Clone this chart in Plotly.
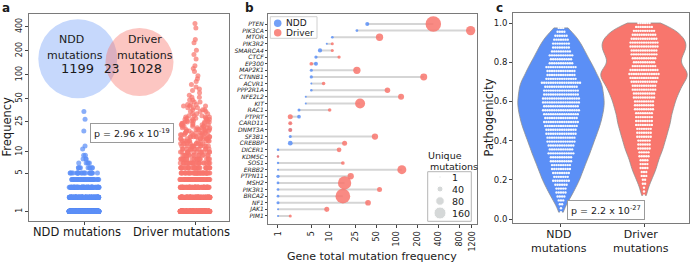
import numpy as np
import plotly.graph_objects as go

# ---------------- data ----------------
# Panel a: mutation frequency distributions
a_categories = ["NDD mutations", "Driver mutations"]
ndd_freq_values = [1, 2, 3, 4, 5, 6, 7, 8, 9, 11, 12, 19, 27, 34]
ndd_freq_counts = [831, 210, 90, 45, 22, 9, 5, 3, 2, 1, 1, 1, 1, 1]
drv_freq_values = [1, 2, 3, 4, 5, 6, 7, 8, 9, 10, 11, 12, 13, 14, 15, 16, 17, 18, 19, 20,
                   21, 22, 23, 24, 25, 26, 27, 28, 29, 30, 32, 34, 36, 38, 40, 42, 45, 48, 52,
                   55, 59, 63, 66, 70, 75, 82, 89, 97, 110, 120, 130, 158, 179, 203, 251, 276,
                   386, 437]
drv_freq_counts = [420, 170, 90, 60, 45, 30, 25, 20, 15, 14, 12, 11, 10, 9, 9, 8, 7, 7, 6, 6,
                   5, 5, 5, 4, 4, 4, 4, 3, 3, 3, 3, 3, 3, 3, 3, 3, 2, 2, 2,
                   1, 1, 1, 1, 1, 1, 1, 1, 1, 1, 1, 1, 1, 1, 1, 1, 1, 1, 1]
venn_ndd_only = 1199
venn_shared = 23
venn_drv_only = 1028
a_pvalue = "p = 2.96 x 10<sup>-19</sup>"
a_yticks = [1, 5, 10, 25, 50, 100, 200, 400]

# Panel b: per-gene total mutation frequency and unique mutations
genes = ["PTEN", "PIK3CA", "MTOR", "PIK3R2", "SMARCA4", "CTCF", "EP300", "MAP2K1", "CTNNB1",
         "ACVR1", "PPP2R1A", "NFE2L2", "KIT", "RAC1", "PTPRT", "CARD11", "DNMT3A", "SF3B1",
         "CREBBP", "DICER1", "KDM5C", "SOS1", "ERBB2", "PTPN11", "MSH2", "PIK3R1", "BRCA2",
         "NF1", "JAK1", "PIM1"]
ndd_gene_freq = [37, 26, 11, 9, 7, 6, 6, 5, 5, 5, 5, 4, 4, 3, 3, 2, 2, 2, 2, 1, 1, 1, 1, 1,
                 1, 1, 1, 1, 1, 1]
drv_gene_freq = [335, 1150, 56, 11, 11, 14, 5, 26, 244, 8, 73, 115, 29, 10, 2, 2, 2, 48, 17,
                 14, 1, 16, 118, 21, 17, 56, 16, 38, 9, 2]
ndd_gene_unique = [18, 8, 8, 4, 20, 12, 18, 10, 12, 2, 7, 2, 2, 10, 15, 2, 14, 10, 25, 7, 4,
                   6, 3, 12, 8, 8, 8, 10, 3, 3]
drv_gene_unique = [267, 96, 59, 10, 10, 12, 15, 59, 54, 14, 34, 40, 111, 14, 28, 18, 18, 44,
                   28, 25, 7, 15, 90, 44, 196, 28, 240, 36, 28, 10]
b_xticks = [1, 5, 10, 25, 50, 100, 200, 400, 800, 1200]
size_legend_values = [1, 40, 80, 160]

# Panel c: pathogenicity score distributions (score bin, number of mutations)
ndd_path_bins = [0.035, 0.055, 0.075, 0.095, 0.115, 0.135, 0.155, 0.175, 0.195, 0.215,
                 0.235, 0.255, 0.275, 0.295, 0.315, 0.335, 0.355, 0.375, 0.395, 0.415,
                 0.435, 0.455, 0.475, 0.495, 0.515, 0.535, 0.555, 0.575, 0.595, 0.615,
                 0.635, 0.655, 0.675, 0.695, 0.715, 0.735, 0.755, 0.775, 0.795, 0.815,
                 0.835, 0.855, 0.875, 0.895, 0.915, 0.935, 0.955, 0.975]
ndd_path_counts = [1, 1, 2, 3, 4, 5, 5, 6, 8, 7, 8, 9, 9, 10, 10, 12, 11, 12, 13, 13,
                   14, 14, 15, 16, 15, 16, 17, 16, 17, 17, 16, 16, 15, 18, 14, 13, 13, 14,
                   11, 10, 11, 9, 8, 8, 7, 6, 4, 3]
drv_path_bins = [0.12, 0.14, 0.16, 0.18, 0.20, 0.22, 0.24, 0.26, 0.28, 0.30, 0.32, 0.34,
                 0.36, 0.38, 0.40, 0.42, 0.44, 0.46, 0.48, 0.50, 0.52, 0.54, 0.56, 0.58,
                 0.60, 0.62, 0.64, 0.66, 0.68, 0.70, 0.72, 0.74, 0.76, 0.78, 0.80, 0.82,
                 0.84, 0.86, 0.88, 0.90, 0.92, 0.94, 0.96, 0.98, 1.00]
drv_path_counts = [1, 1, 1, 2, 2, 3, 3, 4, 4, 4, 5, 5, 6, 6, 6, 7, 7, 7, 8, 8,
                   8, 8, 9, 9, 9, 10, 10, 11, 11, 12, 13, 14, 13, 11, 10, 11, 12, 12, 13, 13,
                   12, 11, 10, 8, 6]
c_pvalue = "p = 2.2 x 10<sup>-27</sup>"
c_yticks = [0.0, 0.2, 0.4, 0.6, 0.8, 1.0]

# ---------------- style ----------------
W, H = 691, 265
FONT = "DejaVu Sans"
BLUE = "#5b8ff6"
RED = "#f8766d"
FRAME = "#7a7a7a"
TXT = "#1a1a1a"
SIZEREF = 2.22
SWARM_DX = 0.027


def xdom(p0, p1):
    return [p0 / W, p1 / W]


def ydom(top, bot):
    return [1 - bot / H, 1 - top / H]


fig = go.Figure()

# ---- panel a ----
ndd_a = np.repeat(ndd_freq_values, ndd_freq_counts) + 1
drv_a = np.repeat(drv_freq_values, drv_freq_counts) + 1
for cat, vals, col in [(a_categories[0], ndd_a, BLUE), (a_categories[1], drv_a, RED)]:
    fig.add_trace(go.Box(
        x=[cat] * len(vals), y=vals, xaxis="x", yaxis="y",
        boxpoints="all", jitter=1, pointpos=0, width=0.27,
        fillcolor="rgba(0,0,0,0)", line=dict(width=0, color="rgba(0,0,0,0)"),
        whiskerwidth=0,
        marker=dict(color=col, size=5, opacity=0.72, line=dict(width=0)),
        showlegend=False, hoverinfo="skip"))

# ---- panel b ----
lx, ly = [], []
for g, f1, f2 in zip(genes, ndd_gene_freq, drv_gene_freq):
    lx += [f1 + 1, f2 + 1, None]
    ly += [g, g, None]
fig.add_trace(go.Scatter(x=lx, y=ly, mode="lines", xaxis="x2", yaxis="y2",
                         line=dict(color="#d5d5d5", width=2), showlegend=False,
                         hoverinfo="skip"))
for freq, uniq, col in [(ndd_gene_freq, ndd_gene_unique, BLUE),
                        (drv_gene_freq, drv_gene_unique, RED)]:
    fig.add_trace(go.Scatter(
        x=np.array(freq) + 1, y=genes, mode="markers", xaxis="x2", yaxis="y2",
        marker=dict(size=uniq, sizemode="area", sizeref=SIZEREF, sizemin=1,
                    color=col, opacity=0.85, line=dict(width=0)),
        showlegend=False, hoverinfo="skip"))

# ---- panel c ----
for pos, bins, counts, col, bw in [(0, ndd_path_bins, ndd_path_counts, BLUE, 0.035),
                                   (1, drv_path_bins, drv_path_counts, RED, 0.028)]:
    vals = np.repeat(bins, counts)
    fig.add_trace(go.Violin(
        x0=pos, y=vals, xaxis="x3", yaxis="y3", width=1.04,
        fillcolor=col, line=dict(color="#8f8f8f", width=0.8), opacity=1,
        points=False, spanmode="hard", bandwidth=bw, scalemode="width",
        box_visible=False, meanline_visible=False, showlegend=False, hoverinfo="skip"))
    # swarm layout of the same observations
    sx, sy = [], []
    for v, c in zip(bins, counts):
        for j in range(c):
            sx.append(pos + (j - (c - 1) / 2) * SWARM_DX)
            sy.append(v)
    fig.add_trace(go.Scatter(x=sx, y=sy, mode="markers", xaxis="x3", yaxis="y3",
                             marker=dict(color="white", size=2.4, opacity=0.95,
                                         line=dict(width=0)),
                             showlegend=False, hoverinfo="skip"))

# ---- overlay (pixel) axis for legends and Venn inset ----
LEG_NDD_Y, LEG_DRV_Y, LEG_X = 23.3, 32.7, 277.7
fig.add_trace(go.Scatter(x=[LEG_X, LEG_X], y=[LEG_NDD_Y, LEG_DRV_Y], mode="markers",
                         xaxis="x4", yaxis="y4",
                         marker=dict(size=7.5, color=[BLUE, RED], opacity=0.85),
                         showlegend=False, hoverinfo="skip"))
SL_X = 440
SL_Y = [177, 189, 201, 213]
fig.add_trace(go.Scatter(x=[SL_X] * len(size_legend_values), y=SL_Y, mode="markers",
                         xaxis="x4", yaxis="y4",
                         marker=dict(size=size_legend_values, sizemode="area",
                                     sizeref=SIZEREF, sizemin=1, color="#c4c8c8"),
                         showlegend=False, hoverinfo="skip"))

axis_common = dict(showline=True, mirror=True, linecolor=FRAME, linewidth=1,
                   showgrid=False, zeroline=False, ticks="outside", ticklen=3,
                   tickcolor="#444", tickwidth=1, automargin=False,
                   tickfont=dict(family=FONT, size=8, color=TXT))

layout = dict(
    template="none",
    width=W, height=H, margin=dict(l=0, r=0, t=0, b=0, pad=0, autoexpand=False),
    paper_bgcolor="white", plot_bgcolor="rgba(0,0,0,0)",
    font=dict(family=FONT, color=TXT), boxmode="overlay", violinmode="overlay",
    showlegend=False,
    xaxis=dict(domain=xdom(29, 228.7), type="category", categoryorder="array",
               categoryarray=a_categories, range=[-0.4955, 1.3036],
               showticklabels=False, anchor="y", **axis_common),
    yaxis=dict(domain=ydom(14, 221), type="log", range=[0.180, 2.761],
               tickmode="array",
               tickvals=[t + 1 for t in a_yticks], ticktext=[str(t) for t in a_yticks],
               tickangle=-90, anchor="x", **axis_common),
    xaxis2=dict(domain=xdom(268, 477), type="log", range=[0.158, 3.152],
                tickmode="array",
                tickvals=[t + 1 for t in b_xticks], ticktext=[str(t) for t in b_xticks],
                tickangle=-90, anchor="y2", **axis_common),
    yaxis2=dict(domain=ydom(14, 224), type="category", categoryorder="array",
                categoryarray=genes, range=[30.21, -1.51], anchor="x2",
                tickmode="array", tickvals=genes, ticktext=genes,
                **{**axis_common, "ticklen": 2,
                   "tickfont": dict(family=FONT, size=6, color=TXT, style="italic")}),
    xaxis3=dict(domain=xdom(513, 689), range=[-0.578, 1.542], tickmode="array",
                tickvals=[0, 1], showticklabels=False, anchor="y3", **axis_common),
    yaxis3=dict(domain=ydom(13, 223), range=[-0.0204, 1.051], tickmode="array",
                tickvals=c_yticks, ticktext=["%.1f" % t for t in c_yticks], anchor="x3",
                **{**axis_common, "tickfont": dict(family=FONT, size=8.5, color=TXT)}),
    xaxis4=dict(domain=[0, 1], range=[0, W], visible=False, fixedrange=True, anchor="y4",
                automargin=False),
    yaxis4=dict(domain=[0, 1], range=[H, 0], visible=False, fixedrange=True, anchor="x4",
                automargin=False),
)
fig.update_layout(**layout)

# shapes: Venn inset and legend frames
VB = (77.8, 58.8, 39.5)   # blue circle cx, cy, r (pixels)
VR = (139.5, 62.0, 34.0)  # red circle
shapes = [
    dict(type="circle", xref="x4", yref="y4", x0=VB[0] - VB[2], x1=VB[0] + VB[2],
         y0=VB[1] - VB[2], y1=VB[1] + VB[2], fillcolor=BLUE, opacity=0.35,
         line=dict(width=0), layer="below"),
    dict(type="circle", xref="x4", yref="y4", x0=VR[0] - VR[2], x1=VR[0] + VR[2],
         y0=VR[1] - VR[2], y1=VR[1] + VR[2], fillcolor=RED, opacity=0.42,
         line=dict(width=0), layer="below"),
    dict(type="rect", xref="x4", yref="y4", x0=270.3, x1=317, y0=16.7, y1=38.3,
         fillcolor="white", line=dict(color="#d0d0d0", width=1), layer="below"),
    dict(type="rect", xref="x4", yref="y4", x0=427.7, x1=471.3, y0=171.7, y1=221.3,
         fillcolor="white", line=dict(color="#b5b5b5", width=1), layer="below"),
]
fig.update_layout(shapes=shapes)


def ann(text, x, y, size, xanchor="center", yanchor="middle", angle=0, **kw):
    return dict(text=text, x=x, y=y, xref="x4", yref="y4", showarrow=False,
                xanchor=xanchor, yanchor=yanchor, textangle=angle,
                font=dict(family=FONT, size=size, color=TXT), **kw)


anns = [
    ann("<b>a</b>", 6, 0, 12, yanchor="top", borderpad=0),
    ann("<b>b</b>", 249.5, 0, 12, yanchor="top", borderpad=0),
    ann("<b>c</b>", 499.5, 0, 12, yanchor="top", borderpad=0),
    # Venn
    ann("NDD", 71.7, 39.3, 11),
    ann("mutations", 75, 55, 11),
    ann(str(venn_ndd_only), 77.3, 68.7, 13),
    ann(str(venn_shared), 111.2, 68.7, 12),
    ann("Driver", 145.3, 39.3, 11),
    ann("mutations", 145, 55, 11),
    ann(str(venn_drv_only), 145.5, 68.7, 13),
    # panel a
    ann(a_pvalue, 131.5, 132.5, 9.5, bordercolor="#9a9a9a", borderwidth=1, borderpad=3,
        bgcolor="white"),
    ann(a_categories[0], 76.5, 231.5, 11.5),
    ann(a_categories[1], 181, 231.5, 11.5),
    ann("Frequency", 6.5, 127, 11.5, angle=-90),
    # panel b
    ann("NDD", 283.7, LEG_NDD_Y, 9, xanchor="left"),
    ann("Driver", 283.7, LEG_DRV_Y, 9, xanchor="left"),
    ann("Unique", 425.5, 155, 9.5, xanchor="left"),
    ann("mutations", 427.5, 166, 9.5, xanchor="left"),
    ann("Gene total mutation frequency", 372, 256.5, 11),
]
for v, yy in zip(size_legend_values, SL_Y):
    anns.append(ann(str(v), 449.5, yy, 9.5, xanchor="left"))
anns += [
    # panel c
    ann(c_pvalue, 606.3, 210, 9.5, bordercolor="#9a9a9a", borderwidth=1, borderpad=3,
        bgcolor="white"),
    ann("NDD<br>mutations", 559, 241, 11),
    ann("Driver<br>mutations", 641, 241, 11),
    ann("Pathogenicity", 488.5, 118, 11.5, angle=-90),
]
fig.update_layout(annotations=anns)

fig.write_html("out.html", config={"displayModeBar": False},
               post_script="document.body.style.margin='0';"
                           "document.body.style.overflow='hidden';")
